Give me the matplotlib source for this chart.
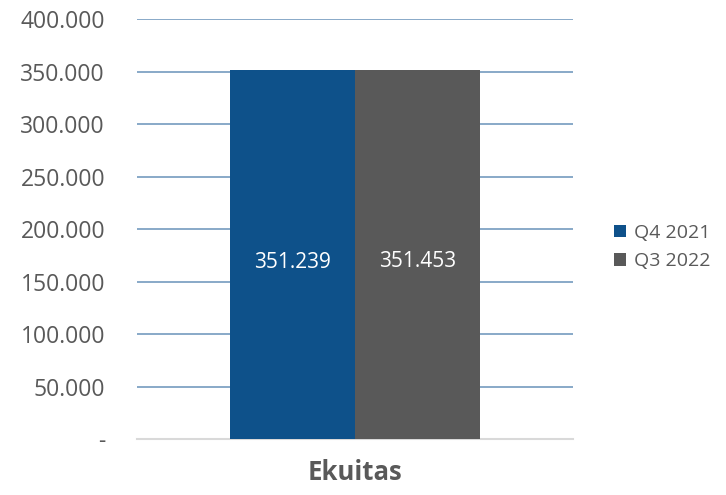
import matplotlib
matplotlib.use("Agg")
import matplotlib.pyplot as plt
import matplotlib.patheffects as pe
from matplotlib.ticker import FuncFormatter

# Data
category = "Ekuitas"
series = ["Q4 2021", "Q3 2022"]
values = [351239, 351453]
colours = ["#0e518a", "#595959"]

plt.rcParams['font.family'] = ['Open Sans', 'DejaVu Sans']

fig = plt.figure(figsize=(7.26, 4.95), dpi=100)
ax = fig.add_axes([0.1887, 0.113, 0.6, 0.8486])

barWidth = 0.2867
offsets = [-barWidth / 2, barWidth / 2]

for name, val, col, off in zip(series, values, colours, offsets):
    ax.bar(off, val, width=barWidth, color=col, label=name, zorder=3,
           path_effects=[pe.SimplePatchShadow(offset=(0, 0), shadow_rgbFace='k', alpha=0.15, rho=1),
                         pe.Normal()])
    # Value label inside bar
    ax.text(off, val * 0.48, f"{val:,}".replace(",", "."), ha="center", va="center",
            color="white", fontsize=15, zorder=4)

ax.set_xlim(-0.5, 0.5)
ax.set_ylim(0, 400000)
ax.set_yticks(range(0, 400001, 50000))
ax.yaxis.set_major_formatter(FuncFormatter(lambda v, p: "-" if v == 0 else f"{int(v):,}".replace(",", ".")))

# Gridlines
ax.grid(axis="y", color="#7fa3c4", linewidth=1.3, zorder=0)
for s in ["top", "right", "left"]:
    ax.spines[s].set_visible(False)
ax.spines["bottom"].set_color("#d9d9d9")
ax.spines["bottom"].set_linewidth(1.5)
ax.tick_params(axis="y", length=0, labelsize=16.5, labelcolor="#595959", pad=23)
ax.tick_params(axis="x", length=0)
ax.set_xticks([0])
ax.set_xticklabels([category], fontsize=18.5, fontweight="bold", color="#595959")
ax.tick_params(axis="x", pad=14)

ax.legend(loc="center left", bbox_to_anchor=(1.096, 0.457), frameon=False,
          borderaxespad=0, borderpad=0,
          fontsize=14, labelcolor="#595959", handlelength=0.6, handleheight=0.6,
          handletextpad=0.4, labelspacing=0.55)

plt.savefig("out.png", dpi=100)
plt.close()
